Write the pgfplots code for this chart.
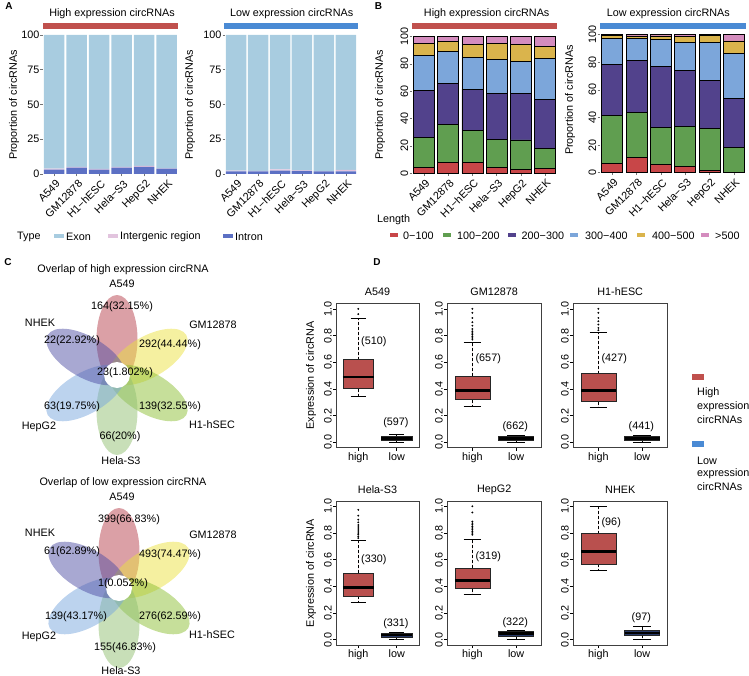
\documentclass[border=0pt]{standalone}
\usepackage{fontspec}
\setmainfont{Liberation Sans}
\usepackage{pgfplots}
\pgfplotsset{compat=1.18}
\usepgfplotslibrary{statistics}

\definecolor{stripHi}{RGB}{192,80,77}
\definecolor{stripLo}{RGB}{74,138,212}
\definecolor{exon}{RGB}{168,204,224}
\definecolor{inter}{RGB}{226,196,222}
\definecolor{intron}{RGB}{92,112,196}
\definecolor{cA}{RGB}{200,70,72}
\definecolor{cB}{RGB}{96,158,80}
\definecolor{cC}{RGB}{82,66,140}
\definecolor{cD}{RGB}{124,166,218}
\definecolor{cE}{RGB}{218,180,76}
\definecolor{cF}{RGB}{212,140,190}
\definecolor{pA}{RGB}{183,65,77}
\definecolor{pB}{RGB}{235,225,65}
\definecolor{pC}{RGB}{141,191,53}
\definecolor{pD}{RGB}{145,191,113}
\definecolor{pE}{RGB}{121,167,221}
\definecolor{pF}{RGB}{81,81,165}
\definecolor{boxHi}{RGB}{185,80,78}
\definecolor{boxLo}{RGB}{40,58,105}

\newcommand{\fs}{\fontsize{10.8}{12.8}\selectfont}

\pgfplotsset{
 /pgf/number format/assume math mode=true,
 every tick label/.append style={font=\fs},
 propbase/.style={scale only axis, ybar stacked, xmin=0.5, xmax=6.5, ymin=0, ymax=100,
   axis x line*=bottom, axis y line*=left, axis line style={draw=none},
   tick style={black!55, line width=0.5pt}, major tick length=2.5pt, tick align=outside,
   xtick={1,2,3,4,5,6}, xticklabels={A549,GM12878,H1−hESC,Hela−S3,HepG2,NHEK},
   xticklabel style={rotate=45, anchor=north east, inner sep=1pt, yshift=-1.5pt},
   enlargelimits=false, clip=false},
 propA/.style={propbase, bar width=20.5pt, ytick={0,25,50,75,100},
   yticklabel style={inner sep=1pt}},
 propB/.style={propbase, bar width=21pt, ytick={0,20,40,60,80,100},
   yticklabel style={rotate=90, anchor=south, inner sep=1pt}},
 segB/.style={draw=black, line width=0.7pt},
 dbox/.style={scale only axis, height=144pt, xmin=0.42, xmax=2.58, ymin=-0.04, ymax=1.04,
   xtick={1,2}, xticklabels={high,low}, ytick={0,0.2,0.4,0.6,0.8,1},
   yticklabels={0.0,0.2,0.4,0.6,0.8,1.0}, tick pos=left, tick align=outside,
   major tick length=3pt, tick style={black, line width=0.6pt},
   yticklabel style={rotate=90, anchor=south, inner sep=1pt},
   xticklabel style={inner sep=1.5pt},
   axis line style={draw=black!75, line width=0.9pt}, clip=false,
   boxplot/draw direction=y,
   boxplot/every median/.style={draw=black, line width=2.5pt},
   boxplot/every whisker/.style={draw=black, dash pattern=on 3pt off 2pt, line width=0.6pt},
   boxplot/every box/.append style={draw=black!85, line width=0.7pt}},
 hib/.style={fill=boxHi, mark=*, mark size=0.7pt, mark options={fill=black, draw=black, solid}},
 lob/.style={fill=boxLo, mark=*, mark size=0.7pt, mark options={fill=black, draw=black, solid}},
 capst/.style={draw=black, line width=0.6pt, no marks, forget plot, solid},
}

\begin{document}
\fs
\begin{tikzpicture}[every node/.append style={font=\fs}]
\useasboundingbox (0pt,0pt) rectangle (749pt,-676pt);

% ---------------- Panel A ----------------
\node[font=\bfseries\fontsize{10}{12}\selectfont] at (9pt,-6.5pt) {A};
\node at (112pt,-14pt) {High expression circRNAs};
\fill[stripHi] (43pt,-23.3pt) rectangle (178pt,-29.3pt);
\node[rotate=90] at (14pt,-105pt) {Proportion of circRNAs};
\begin{axis}[propA, at={(43pt,-174pt)}, anchor=south west, width=135pt, height=139pt]
\addplot[fill=intron, draw=none] coordinates {(1,3.2)(2,4.6)(3,3.2)(4,4.6)(5,5.2)(6,3.8)};
\addplot[fill=inter, draw=none] coordinates {(1,0.6)(2,0.5)(3,0.4)(4,0.6)(5,0.6)(6,0.3)};
\addplot[fill=exon, draw=none] coordinates {(1,96.2)(2,94.9)(3,96.4)(4,94.8)(5,94.2)(6,95.9)};
\end{axis}

\node at (291.7pt,-14pt) {Low expression circRNAs};
\fill[stripLo] (224pt,-23.3pt) rectangle (358pt,-29.3pt);
\node[rotate=90] at (190pt,-105pt) {Proportion of circRNAs};
\begin{axis}[propA, at={(225pt,-174pt)}, anchor=south west, width=132pt, height=139pt]
\addplot[fill=intron, draw=none] coordinates {(1,1.9)(2,1.9)(3,2.4)(4,2.2)(5,1.9)(6,1.9)};
\addplot[fill=inter, draw=none] coordinates {(1,0.5)(2,0.3)(3,0.9)(4,0.4)(5,0.2)(6,1.0)};
\addplot[fill=exon, draw=none] coordinates {(1,97.6)(2,97.8)(3,96.7)(4,97.4)(5,97.9)(6,97.1)};
\end{axis}

% legend A
\node[anchor=west, inner sep=0pt] at (17pt,-236.5pt) {Type};
\fill[exon] (54pt,-234.5pt) rectangle (64pt,-238.5pt);
\node[anchor=west, inner sep=0pt] at (66pt,-236.5pt) {Exon};
\fill[inter] (108pt,-234.5pt) rectangle (118pt,-238.5pt);
\node[anchor=west, inner sep=0pt] at (120pt,-236.5pt) {Intergenic region};
\fill[intron] (223pt,-234.5pt) rectangle (233pt,-238.5pt);
\node[anchor=west, inner sep=0pt] at (235pt,-236.5pt) {Intron};

% ---------------- Panel B ----------------
\node[font=\bfseries\fontsize{10}{12}\selectfont] at (378.5pt,-6pt) {B};
\node at (486.7pt,-14pt) {High expression circRNAs};
\fill[stripHi] (411.7pt,-23.3pt) rectangle (556.7pt,-29.3pt);
\node[rotate=90] at (380pt,-105pt) {Proportion of circRNAs};
\begin{axis}[propB, at={(412pt,-173.3pt)}, anchor=south west, width=145pt, height=136.8pt]
\addplot[fill=cA, segB] coordinates {(1,4.1)(2,8.0)(3,7.8)(4,4.4)(5,2.9)(6,3.4)};
\addplot[fill=cB, segB] coordinates {(1,22.2)(2,27.9)(3,23.4)(4,20.5)(5,21.5)(6,14.9)};
\addplot[fill=cC, segB] coordinates {(1,34.2)(2,30.0)(3,30.3)(4,33.6)(5,34.1)(6,35.4)};
\addplot[fill=cD, segB] coordinates {(1,25.4)(2,22.9)(3,23.4)(4,24.9)(5,23.5)(6,30.4)};
\addplot[fill=cE, segB] coordinates {(1,9.2)(2,7.8)(3,9.5)(4,11.7)(5,12.1)(6,8.6)};
\addplot[fill=cF, segB] coordinates {(1,4.9)(2,3.4)(3,5.6)(4,4.9)(5,5.9)(6,7.3)};
\end{axis}

\node at (668.3pt,-14pt) {Low expression circRNAs};
\fill[stripLo] (600pt,-23.3pt) rectangle (745.7pt,-29.3pt);
\node[rotate=90] at (570pt,-100pt) {Proportion of circRNAs};
\begin{axis}[propB, at={(600pt,-172.7pt)}, anchor=south west, width=146pt, height=138.2pt]
\addplot[fill=cA, segB] coordinates {(1,6.7)(2,11.1)(3,5.8)(4,4.8)(5,1.9)(6,0)};
\addplot[fill=cB, segB] coordinates {(1,34.5)(2,32.3)(3,27.0)(4,28.5)(5,30.1)(6,18.3)};
\addplot[fill=cC, segB] coordinates {(1,37.1)(2,37.6)(3,43.8)(4,40.9)(5,34.5)(6,35.2)};
\addplot[fill=cD, segB] coordinates {(1,18.6)(2,15.9)(3,19.8)(4,20.3)(5,27.5)(6,32.8)};
\addplot[fill=cE, segB] coordinates {(1,2.4)(2,2.1)(3,2.6)(4,3.8)(5,5.3)(6,9.1)};
\addplot[fill=cF, segB] coordinates {(1,0.7)(2,1.0)(3,1.0)(4,1.7)(5,0.7)(6,4.6)};
\end{axis}

% legend B
\node[anchor=west, inner sep=0pt] at (377pt,-220pt) {Length};
\fill[cA] (390pt,-233.5pt) rectangle (397.5pt,-237.5pt);
\node[anchor=west, inner sep=0pt] at (403pt,-235.5pt) {0−100};
\fill[cB] (443pt,-233.5pt) rectangle (451pt,-237.5pt);
\node[anchor=west, inner sep=0pt] at (457pt,-235.5pt) {100−200};
\fill[cC] (508pt,-233.5pt) rectangle (515.5pt,-237.5pt);
\node[anchor=west, inner sep=0pt] at (521.5pt,-235.5pt) {200−300};
\fill[cD] (570pt,-233.5pt) rectangle (578pt,-237.5pt);
\node[anchor=west, inner sep=0pt] at (585pt,-235.5pt) {300−400};
\fill[cE] (637pt,-233.5pt) rectangle (645pt,-237.5pt);
\node[anchor=west, inner sep=0pt] at (652pt,-235.5pt) {400−500};
\fill[cF] (701pt,-233.5pt) rectangle (708.5pt,-237.5pt);
\node[anchor=west, inner sep=0pt] at (715pt,-235.5pt) {>500};

% ---------------- Panel C ----------------
\node[font=\bfseries\fontsize{10}{12}\selectfont] at (8pt,-262pt) {C};
\begin{axis}[at={(117pt,-375pt)}, anchor=center, x=1pt, y=1pt, xmin=-120, xmax=120,
  ymin=-115, ymax=115, hide axis, clip=false]
\fill[pA, opacity=0.5, shift={(axis cs:0,0)}, rotate=90] (36pt,0pt) ellipse [x radius=44pt, y radius=20.5pt];
\fill[pB, opacity=0.5, shift={(axis cs:0,0)}, rotate=30] (36pt,0pt) ellipse [x radius=44pt, y radius=20.5pt];
\fill[pC, opacity=0.5, shift={(axis cs:0,0)}, rotate=-30] (36pt,0pt) ellipse [x radius=44pt, y radius=20.5pt];
\fill[pD, opacity=0.5, shift={(axis cs:0,0)}, rotate=-90] (36pt,0pt) ellipse [x radius=44pt, y radius=20.5pt];
\fill[pE, opacity=0.5, shift={(axis cs:0,0)}, rotate=210] (36pt,0pt) ellipse [x radius=44pt, y radius=20.5pt];
\fill[pF, opacity=0.5, shift={(axis cs:0,0)}, rotate=150] (36pt,0pt) ellipse [x radius=44pt, y radius=20.5pt];
\fill[white] (axis cs:0,0) circle [radius=13pt];
\node at (axis cs:6,105) {Overlap of high expression circRNA};
\node at (axis cs:5,91) {A549};
\node at (axis cs:5,68) {164(32.15\%)};
\node at (axis cs:-77,52) {NHEK};
\node at (axis cs:-45,34) {22(22.92\%)};
\node at (axis cs:96,50) {GM12878};
\node at (axis cs:53,30) {292(44.44\%)};
\node at (axis cs:8,2) {23(1.802\%)};
\node at (axis cs:-45,-32) {63(19.75\%)};
\node at (axis cs:53,-32) {139(32.55\%)};
\node at (axis cs:-78,-52) {HepG2};
\node at (axis cs:95,-50) {H1-hSEC};
\node at (axis cs:3,-62) {66(20\%)};
\node at (axis cs:4,-86) {Hela-S3};
\end{axis}

\begin{axis}[at={(119pt,-588pt)}, anchor=center, x=1pt, y=1pt, xmin=-120, xmax=120,
  ymin=-115, ymax=115, hide axis, clip=false]
\fill[pA, opacity=0.5, shift={(axis cs:0,0)}, rotate=90] (36pt,0pt) ellipse [x radius=44pt, y radius=20.5pt];
\fill[pB, opacity=0.5, shift={(axis cs:0,0)}, rotate=30] (36pt,0pt) ellipse [x radius=44pt, y radius=20.5pt];
\fill[pC, opacity=0.5, shift={(axis cs:0,0)}, rotate=-30] (36pt,0pt) ellipse [x radius=44pt, y radius=20.5pt];
\fill[pD, opacity=0.5, shift={(axis cs:0,0)}, rotate=-90] (36pt,0pt) ellipse [x radius=44pt, y radius=20.5pt];
\fill[pE, opacity=0.5, shift={(axis cs:0,0)}, rotate=210] (36pt,0pt) ellipse [x radius=44pt, y radius=20.5pt];
\fill[pF, opacity=0.5, shift={(axis cs:0,0)}, rotate=150] (36pt,0pt) ellipse [x radius=44pt, y radius=20.5pt];
\fill[white] (axis cs:0,0) circle [radius=13pt];
\node at (axis cs:4,105) {Overlap of low expression circRNA};
\node at (axis cs:3,91) {A549};
\node at (axis cs:10,68) {399(66.83\%)};
\node at (axis cs:-79,55) {NHEK};
\node at (axis cs:-47,36) {61(62.89\%)};
\node at (axis cs:94,53) {GM12878};
\node at (axis cs:51,33) {493(74.47\%)};
\node at (axis cs:4,4) {1(0.052\%)};
\node at (axis cs:-43,-29) {139(43.17\%)};
\node at (axis cs:51,-29) {276(62.59\%)};
\node at (axis cs:-80,-49) {HepG2};
\node at (axis cs:93,-47) {H1-hSEC};
\node at (axis cs:6,-60) {155(46.83\%)};
\node at (axis cs:2,-83) {Hela-S3};
\end{axis}

% ---------------- Panel D ----------------
\node[font=\bfseries\fontsize{10}{12}\selectfont] at (377pt,-262pt) {D};
\node[rotate=90] at (311pt,-375.5pt) {Expression of circRNA};
\node[rotate=90] at (311pt,-573pt) {Expression of circRNA};
\node at (377.5pt,-292pt) {A549};
\node at (494.2pt,-292pt) {GM12878};
\node at (620.2pt,-292pt) {H1-hESC};
\node at (377.5pt,-490pt) {Hela-S3};
\node at (494.2pt,-490pt) {HepG2};
\node at (620.2pt,-490pt) {NHEK};

% A549
\begin{axis}[dbox, at={(336pt,-447.5pt)}, anchor=south west, width=83pt]
\addplot[hib, boxplot prepared={draw position=1, lower whisker=0.343, lower quartile=0.400, median=0.489, upper quartile=0.619, upper whisker=0.932, box extend=0.8, whisker extend=0}] table[row sep=\\, y index=0] {d\\0.960\\1.000\\};
\addplot[lob, boxplot prepared={draw position=2, lower whisker=0.0, lower quartile=0.015, median=0.028, upper quartile=0.045, upper whisker=0.062, box extend=0.8, whisker extend=0}] coordinates {};
\addplot[capst] coordinates {(0.8,0.932)(1.2,0.932)};
\addplot[capst] coordinates {(0.8,0.343)(1.2,0.343)};
\addplot[capst] coordinates {(1.8,0.062)(2.2,0.062)};
\addplot[capst] coordinates {(1.8,0.0)(2.2,0.0)};
\node[anchor=west, inner sep=0pt] at (axis cs:1.07,0.754) {(510)};
\node at (axis cs:1.98,0.143) {(597)};
\end{axis}

% GM12878
\begin{axis}[dbox, at={(447pt,-447.5pt)}, anchor=south west, width=94.5pt]
\addplot[hib, boxplot prepared={draw position=1, lower whisker=0.268, lower quartile=0.318, median=0.388, upper quartile=0.493, upper whisker=0.749, box extend=0.8, whisker extend=0}] table[row sep=\\, y index=0] {d\\0.769\\0.782\\0.794\\0.807\\0.819\\0.832\\0.849\\0.874\\0.900\\0.932\\0.970\\1.000\\};
\addplot[lob, boxplot prepared={draw position=2, lower whisker=0.0, lower quartile=0.012, median=0.027, upper quartile=0.042, upper whisker=0.052, box extend=0.8, whisker extend=0}] coordinates {};
\addplot[capst] coordinates {(0.8,0.749)(1.2,0.749)};
\addplot[capst] coordinates {(0.8,0.268)(1.2,0.268)};
\addplot[capst] coordinates {(1.8,0.052)(2.2,0.052)};
\addplot[capst] coordinates {(1.8,0.0)(2.2,0.0)};
\node[anchor=west, inner sep=0pt] at (axis cs:1.07,0.624) {(657)};
\node at (axis cs:1.98,0.117) {(662)};
\end{axis}

% H1-hESC
\begin{axis}[dbox, at={(573pt,-447.5pt)}, anchor=south west, width=94.5pt]
\addplot[hib, boxplot prepared={draw position=1, lower whisker=0.260, lower quartile=0.305, median=0.388, upper quartile=0.514, upper whisker=0.824, box extend=0.8, whisker extend=0}] table[row sep=\\, y index=0] {d\\0.840\\0.857\\0.882\\0.907\\0.932\\0.970\\1.000\\};
\addplot[lob, boxplot prepared={draw position=2, lower whisker=0.0, lower quartile=0.012, median=0.027, upper quartile=0.042, upper whisker=0.052, box extend=0.8, whisker extend=0}] coordinates {};
\addplot[capst] coordinates {(0.8,0.824)(1.2,0.824)};
\addplot[capst] coordinates {(0.8,0.260)(1.2,0.260)};
\addplot[capst] coordinates {(1.8,0.052)(2.2,0.052)};
\addplot[capst] coordinates {(1.8,0.0)(2.2,0.0)};
\node[anchor=west, inner sep=0pt] at (axis cs:1.07,0.624) {(427)};
\node at (axis cs:1.98,0.117) {(441)};
\end{axis}

% Hela-S3
\begin{axis}[dbox, at={(336pt,-645pt)}, anchor=south west, width=83pt]
\addplot[hib, boxplot prepared={draw position=1, lower whisker=0.282, lower quartile=0.324, median=0.392, upper quartile=0.500, upper whisker=0.744, box extend=0.8, whisker extend=0}] table[row sep=\\, y index=0] {d\\0.762\\0.775\\0.790\\0.800\\0.815\\0.830\\0.845\\0.860\\0.880\\0.900\\0.930\\0.974\\};
\addplot[lob, boxplot prepared={draw position=2, lower whisker=0.005, lower quartile=0.020, median=0.035, upper quartile=0.050, upper whisker=0.058, box extend=0.8, whisker extend=0}] coordinates {};
\addplot[capst] coordinates {(0.8,0.744)(1.2,0.744)};
\addplot[capst] coordinates {(0.8,0.282)(1.2,0.282)};
\addplot[capst] coordinates {(1.8,0.058)(2.2,0.058)};
\addplot[capst] coordinates {(1.8,0.005)(2.2,0.005)};
\node[anchor=west, inner sep=0pt] at (axis cs:1.07,0.600) {(330)};
\node at (axis cs:1.98,0.120) {(331)};
\end{axis}

% HepG2
\begin{axis}[dbox, at={(447pt,-645pt)}, anchor=south west, width=94.5pt]
\addplot[hib, boxplot prepared={draw position=1, lower whisker=0.342, lower quartile=0.382, median=0.442, upper quartile=0.537, upper whisker=0.754, box extend=0.8, whisker extend=0}] table[row sep=\\, y index=0] {d\\0.787\\0.800\\0.812\\0.824\\0.837\\0.849\\0.862\\0.874\\0.886\\0.954\\1.000\\};
\addplot[lob, boxplot prepared={draw position=2, lower whisker=0.005, lower quartile=0.025, median=0.045, upper quartile=0.062, upper whisker=0.072, box extend=0.8, whisker extend=0}] coordinates {};
\addplot[capst] coordinates {(0.8,0.754)(1.2,0.754)};
\addplot[capst] coordinates {(0.8,0.342)(1.2,0.342)};
\addplot[capst] coordinates {(1.8,0.072)(2.2,0.072)};
\addplot[capst] coordinates {(1.8,0.005)(2.2,0.005)};
\node[anchor=west, inner sep=0pt] at (axis cs:1.07,0.620) {(319)};
\node at (axis cs:1.98,0.125) {(322)};
\end{axis}

% NHEK
\begin{axis}[dbox, at={(573pt,-645pt)}, anchor=south west, width=94.5pt]
\addplot[hib, boxplot prepared={draw position=1, lower whisker=0.519, lower quartile=0.567, median=0.661, upper quartile=0.794, upper whisker=1.000, box extend=0.8, whisker extend=0}] coordinates {};
\addplot[lob, boxplot prepared={draw position=2, lower whisker=0.005, lower quartile=0.032, median=0.050, upper quartile=0.070, upper whisker=0.100, box extend=0.8, whisker extend=0}] coordinates {};
\addplot[capst] coordinates {(0.8,1.000)(1.2,1.000)};
\addplot[capst] coordinates {(0.8,0.519)(1.2,0.519)};
\addplot[capst] coordinates {(1.8,0.100)(2.2,0.100)};
\addplot[capst] coordinates {(1.8,0.005)(2.2,0.005)};
\node[anchor=west, inner sep=0pt] at (axis cs:1.07,0.874) {(96)};
\node at (axis cs:1.98,0.163) {(97)};
\end{axis}

% legend D
\fill[stripHi] (692pt,-374pt) rectangle (704pt,-380pt);
\node[anchor=west, inner sep=0pt] at (697pt,-393pt) {High};
\node[anchor=west, inner sep=0pt] at (697pt,-407pt) {expression};
\node[anchor=west, inner sep=0pt] at (697pt,-420pt) {circRNAs};
\fill[stripLo] (692pt,-441pt) rectangle (704pt,-446.5pt);
\node[anchor=west, inner sep=0pt] at (697pt,-461pt) {Low};
\node[anchor=west, inner sep=0pt] at (697pt,-474pt) {expression};
\node[anchor=west, inner sep=0pt] at (697pt,-487pt) {circRNAs};
\end{tikzpicture}
\end{document}
